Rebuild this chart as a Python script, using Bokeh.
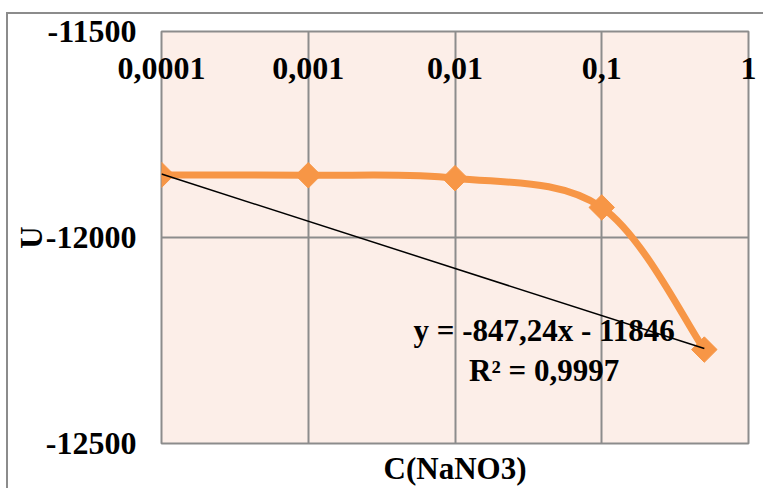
import numpy as np
from bokeh.plotting import figure
from bokeh.models import (LogAxis, FixedTicker, Label, Range1d, InlineStyleSheet)
from bokeh.embed import file_html
from bokeh.resources import INLINE

# ---- data ----
conc = [0.0001, 0.001, 0.01, 0.1, 0.5]
u_vals = [-11848, -11849, -11856, -11927, -12272]
x_ticks = [0.0001, 0.001, 0.01, 0.1, 1]
x_tick_labels = ["0,0001", "0,001", "0,01", "0,1", "1"]
y_ticks = [-12500, -12000, -11500]
y_tick_labels = ["-12500", "-12000", "-11500"]
trend_slope = -847.24
trend_intercept = -11846
trend_r2 = "0,9997"

ORANGE = "#F79646"
GRID = "#8C8C8C"
FONT = "Liberation Serif"

p = figure(width=763, height=488, output_backend="svg", toolbar_location=None,
           x_axis_type="log", x_axis_location="above",
           x_range=Range1d(x_ticks[0], x_ticks[-1]),
           y_range=Range1d(y_ticks[0], y_ticks[-1]),
           min_border_left=161, min_border_right=15, min_border_top=31,
           min_border_bottom=42)
p.background_fill_color = "#FCEEE8"
p.border_fill_color = "white"
p.outline_line_color = GRID
p.outline_line_width = 2

# outer chart border (left and top edges of the chart area)
p.stylesheets = [InlineStyleSheet(css=(
    ":host { position: relative; }\n"
    ":host::after { content: ''; position: absolute; left: 6px; top: 12px; "
    "right: 0px; bottom: 0px; border-left: 2px solid #8C8C8C; "
    "border-top: 2px solid #8C8C8C; pointer-events: none; }"
))]

# top x axis: tick labels, drawn inside the plot area under its top edge
xa = p.xaxis[0]
xa.ticker = FixedTicker(ticks=x_ticks)
xa.major_label_overrides = {t: l for t, l in zip(x_ticks, x_tick_labels)}
xa.axis_line_color = None
xa.major_tick_line_color = None
xa.minor_tick_line_color = None
xa.major_tick_out = 0
xa.major_tick_in = 0
xa.major_label_standoff = -47
xa.major_label_text_font = FONT
xa.major_label_text_font_style = "bold"
xa.major_label_text_font_size = "32px"
xa.major_label_text_color = "black"

# bottom axis carrying the title
xb = LogAxis(ticker=FixedTicker(ticks=x_ticks), axis_label="C(NaNO3)")
xb.major_label_overrides = {t: "" for t in x_ticks}
xb.major_label_text_font_size = "1px"
xb.major_label_standoff = 0
xb.axis_line_color = None
xb.major_tick_line_color = None
xb.minor_tick_line_color = None
xb.major_tick_out = 0
xb.major_tick_in = 0
xb.axis_label_standoff = 7
xb.axis_label_text_font = FONT
xb.axis_label_text_font_style = "bold"
xb.axis_label_text_font_size = "31px"
xb.axis_label_text_color = "black"
p.add_layout(xb, "below")

ya = p.yaxis[0]
ya.ticker = FixedTicker(ticks=y_ticks)
ya.major_label_overrides = {t: l for t, l in zip(y_ticks, y_tick_labels)}
ya.axis_line_color = None
ya.major_tick_line_color = None
ya.minor_tick_line_color = None
ya.major_tick_out = 0
ya.major_tick_in = 0
ya.major_label_standoff = 25
ya.major_label_text_font = FONT
ya.major_label_text_font_style = "bold"
ya.major_label_text_font_size = "32px"
ya.major_label_text_color = "black"
ya.axis_label = "U"
ya.axis_label_standoff = -6
ya.axis_label_text_font = FONT
ya.axis_label_text_font_style = "bold"
ya.axis_label_text_font_size = "31px"
ya.axis_label_text_color = "black"

p.xgrid.ticker = FixedTicker(ticks=x_ticks)
p.ygrid.ticker = FixedTicker(ticks=y_ticks)
p.xgrid.grid_line_color = GRID
p.ygrid.grid_line_color = GRID
p.xgrid.grid_line_width = 2
p.ygrid.grid_line_width = 2

# smoothed line (Catmull-Rom -> cubic Bezier, in log-x space)
lx = np.log10(np.array(conc, dtype=float))
yy = np.array(u_vals, dtype=float)
n = len(lx)
x0, y0, x1, y1, cx0, cy0, cx1, cy1 = ([] for _ in range(8))
for i in range(n - 1):
    im1 = max(i - 1, 0)
    ip2 = min(i + 2, n - 1)
    x0.append(10 ** lx[i]); y0.append(yy[i])
    x1.append(10 ** lx[i + 1]); y1.append(yy[i + 1])
    cx0.append(10 ** (lx[i] + (lx[i + 1] - lx[im1]) / 6))
    cy0.append(yy[i] + (yy[i + 1] - yy[im1]) / 6)
    cx1.append(10 ** (lx[i + 1] - (lx[ip2] - lx[i]) / 6))
    cy1.append(yy[i + 1] - (yy[ip2] - yy[i]) / 6)
p.bezier(x0=x0, y0=y0, x1=x1, y1=y1, cx0=cx0, cy0=cy0, cx1=cx1, cy1=cy1,
         line_color=ORANGE, line_width=7, line_cap="round")

p.scatter(x=conc, y=u_vals, marker="square", angle=np.pi / 4, size=18,
          fill_color=ORANGE, line_color=ORANGE)

# linear trendline
tx = [conc[0], conc[-1]]
ty = [trend_slope * v + trend_intercept for v in tx]
p.line(tx, ty, line_color="black", line_width=1.5)

eq_text = "y = {}x - {}".format(str(trend_slope).replace(".", ","), abs(trend_intercept))
r2_text = "R² = {}".format(trend_r2)
for txt, yv in ((eq_text, -12226), (r2_text, -12322)):
    p.add_layout(Label(x=0.0405, y=yv, text=txt, text_align="center",
                       text_baseline="alphabetic", text_font=FONT,
                       text_font_style="bold", text_font_size="31px",
                       text_color="black"))

open("out.html", "w").write(file_html(p, INLINE))
